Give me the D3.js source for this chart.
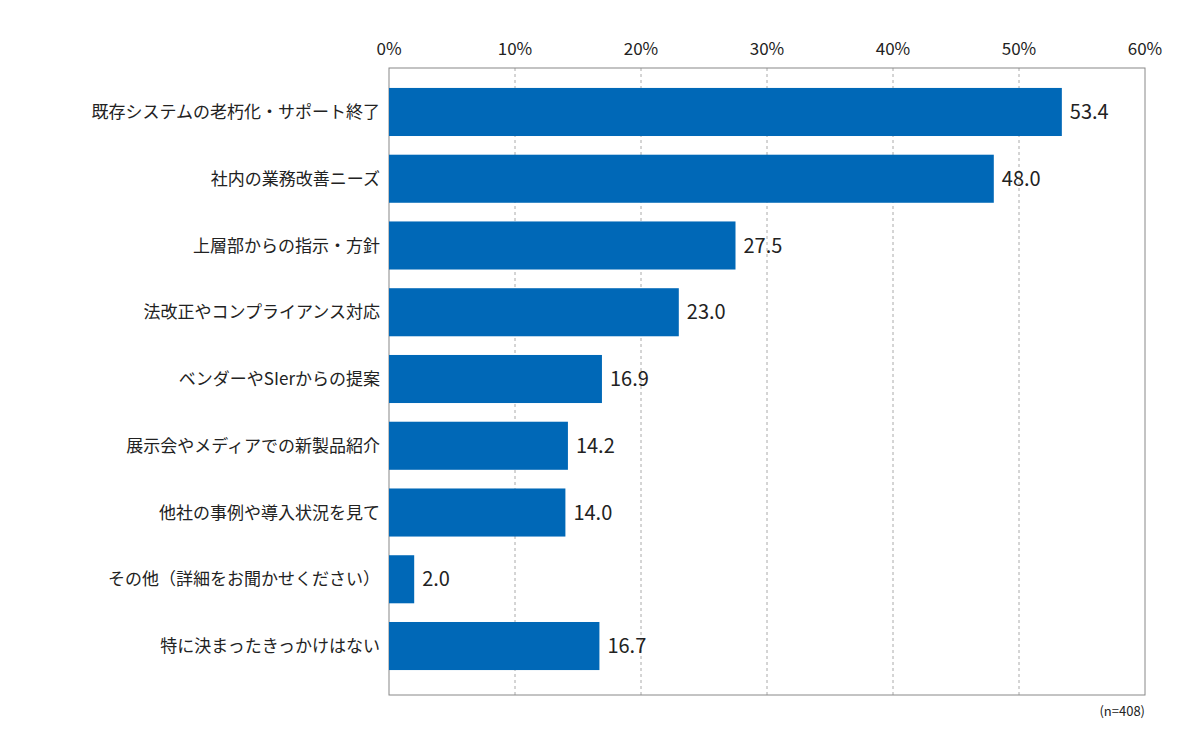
<!DOCTYPE html>
<html><head><meta charset="utf-8">
<script src="https://cdn.jsdelivr.net/npm/d3@7/dist/d3.min.js"></script>
<style>body{margin:0;background:#fff}</style></head>
<body><svg id="c" width="1200" height="754"></svg>
<script>
const categories=["既存システムの老朽化・サポート終了","社内の業務改善ニーズ","上層部からの指示・方針","法改正やコンプライアンス対応","ベンダーやSIerからの提案","展示会やメディアでの新製品紹介","他社の事例や導入状況を見て","その他（詳細をお聞かせください）","特に決まったきっかけはない"];
const values=[53.4,48.0,27.5,23.0,16.9,14.2,14.0,2.0,16.7];
const ticks=[0,10,20,30,40,50,60];
const svg=d3.select("#c");
const font="'Noto Sans CJK JP','Noto Sans',sans-serif";
const x=d3.scaleLinear().domain([0,60]).range([389,1145]);
const y=d3.scaleBand().domain(categories).range([78.6,679.4]).paddingInner(0.28).paddingOuter(0.14);
const plotTop=68,plotBottom=695;
svg.selectAll("line.g").data(ticks.slice(1,-1)).join("line")
 .attr("x1",d=>x(d)).attr("x2",d=>x(d)).attr("y1",plotTop).attr("y2",plotBottom)
 .attr("stroke","#aaa").attr("stroke-dasharray","3,3");
svg.append("rect").attr("x",x(0)).attr("y",plotTop).attr("width",x(60)-x(0)).attr("height",plotBottom-plotTop)
 .attr("fill","none").attr("stroke","#888");
svg.selectAll("text.t").data(ticks).join("text").attr("x",d=>x(d)).attr("y",55)
 .attr("text-anchor","middle").attr("font-family",font).attr("font-size",17).attr("fill","#222").text(d=>d+"%");
svg.selectAll("rect.b").data(values).join("rect")
 .attr("x",x(0)).attr("y",(d,i)=>y(categories[i])).attr("width",d=>x(d)-x(0)).attr("height",y.bandwidth())
 .attr("fill","#0068b7");
svg.selectAll("text.v").data(values).join("text")
 .attr("x",d=>x(d)+8).attr("y",(d,i)=>y(categories[i])+y.bandwidth()/2).attr("dy","0.36em")
 .attr("font-family",font).attr("font-size",20).attr("fill","#222").text(d=>d.toFixed(1));
svg.selectAll("text.c").data(categories).join("text")
 .attr("x",380).attr("y",d=>y(d)+y.bandwidth()/2).attr("dy","0.36em").attr("text-anchor","end")
 .attr("font-family",font).attr("font-size",17).attr("fill","#222").text(d=>d);
svg.append("text").attr("x",1145).attr("y",716).attr("text-anchor","end").attr("font-family",font)
 .attr("font-size",13).attr("fill","#222").text("(n=408)");
</script></body></html>
